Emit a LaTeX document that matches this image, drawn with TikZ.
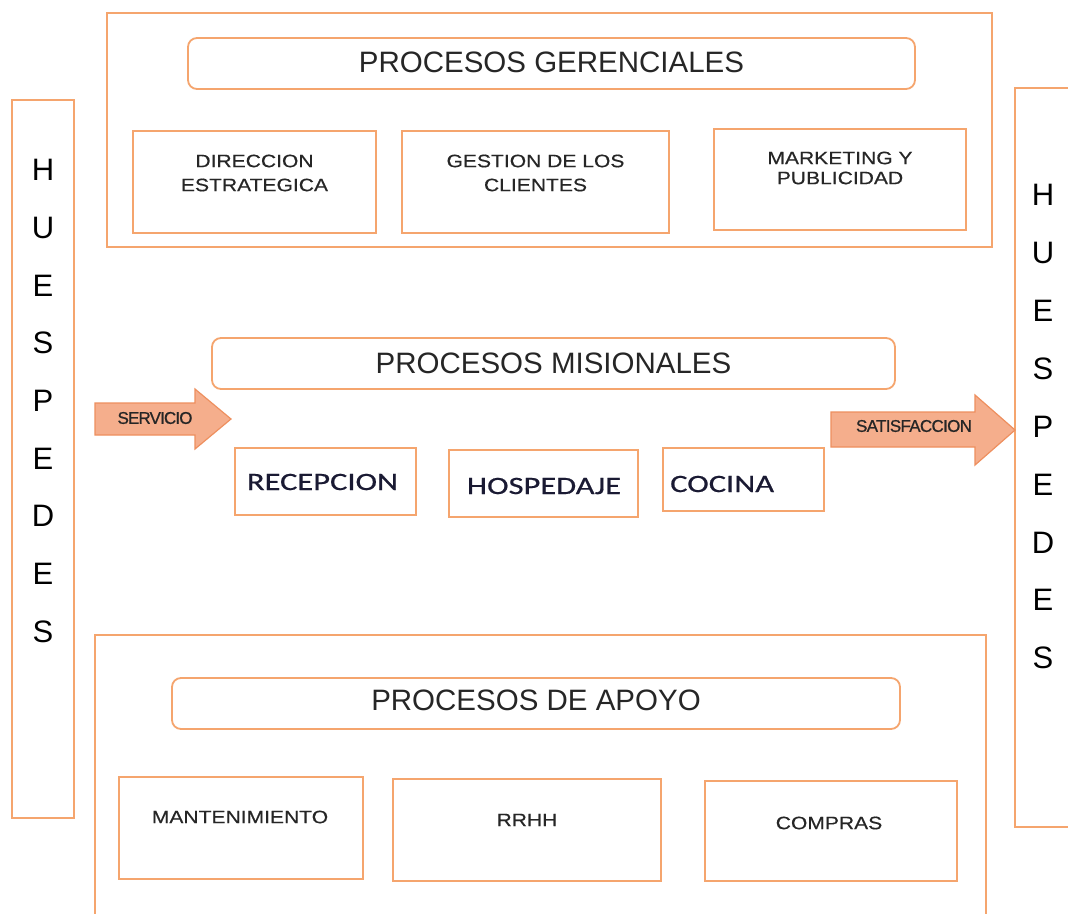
\documentclass[tikz,border=0pt]{standalone}
\usepackage{fontspec}
\setmainfont{Liberation Sans}
\newfontfamily\calib[FakeStretch=1.3,FakeBold=0.6]{Carlito}
\newfontfamily\smf[FakeStretch=1.17,FakeBold=0.4]{Liberation Sans}
\newfontfamily\arf[FakeBold=0.8]{Liberation Sans}
\definecolor{orng}{HTML}{F5A56E}
\definecolor{arrfill}{HTML}{F5AE8C}
\definecolor{arrdraw}{HTML}{EE8F5E}
\definecolor{txt}{HTML}{262626}
\definecolor{navy}{HTML}{1A1A33}
\begin{document}
\begin{tikzpicture}[x=1pt,y=-1pt,
  box/.style={draw=orng,line width=1.8pt},
  rbox/.style={draw=orng,line width=1.8pt,rounded corners=9pt},
  ttl/.style={font=\fontsize{29.5}{32}\selectfont,text=txt,inner sep=0pt},
  sm/.style={font=\smf\fontsize{18}{24}\selectfont,text=txt,align=center,inner sep=0pt},
  mis/.style={font=\calib\fontsize{25}{28}\selectfont,text=navy,inner sep=0pt},
  let/.style={font=\fontsize{31}{34}\selectfont,text=black,inner sep=0pt},
  arr/.style={fill=arrfill,draw=arrdraw,line width=1.2pt},
  arrtxt/.style={font=\arf\fontsize{17}{19}\selectfont,text=txt,inner sep=0pt}]
\useasboundingbox (0,0) rectangle (1068,913);
\fill[white] (0,0) rectangle (1068,913);
% left huespedes
\draw[box] (12,100) rectangle (74,818);
\foreach \l [count=\i from 0] in {H,U,E,S,P,E,D,E,S}
  \node[let] (lh\i) at (43,170+\i*57.7) {\l};
% right huespedes
\draw[box] (1015,88) rectangle (1080,827);
\foreach \l [count=\i from 0] in {H,U,E,S,P,E,D,E,S}
  \node[let] (rh\i) at (1043,195+\i*57.9) {\l};
% gerenciales
\draw[box] (107,13) rectangle (992,247);
\draw[rbox] (188,38) rectangle (915,89);
\node[ttl] (ger) at (551.5,62) {PROCESOS GERENCIALES};
\draw[box] (133,131) rectangle (376,233);
\node[sm] (dir) at (254.5,173) {DIRECCION\\ESTRATEGICA};
\draw[box] (402,131) rectangle (669,233);
\node[sm] (ges) at (535.5,173) {GESTION DE LOS\\CLIENTES};
\draw[box] (714,129) rectangle (966,230);
\node[sm,font=\smf\fontsize{18}{20}\selectfont] (mkt) at (840,168) {MARKETING Y\\PUBLICIDAD};
% misionales
\draw[rbox] (212,338) rectangle (895,389);
\node[ttl] (mis) at (553.5,363) {PROCESOS MISIONALES};
\draw[box] (235,448) rectangle (416,515);
\node[mis] (rec) at (322.5,482) {RECEPCION};
\draw[box] (449,450) rectangle (638,517);
\node[mis] (hos) at (544,486) {HOSPEDAJE};
\draw[box] (663,448) rectangle (824,511);
\node[mis,anchor=west] (coc) at (670,484) {COCINA};
% arrows
\draw[arr] (95,403) -- (195,403) -- (195,389) -- (231,419) -- (195,449) -- (195,435) -- (95,435) -- cycle;
\node[arrtxt] (serv) at (155,418) {\addfontfeatures{LetterSpace=-5}SERVICIO};
\draw[arr] (831,412) -- (975,412) -- (975,395) -- (1015,430) -- (975,465) -- (975,447) -- (831,447) -- cycle;
\node[arrtxt] (sat) at (914,426) {\addfontfeatures{LetterSpace=-4}SATISFACCION};
% apoyo
\draw[box] (95,925) -- (95,635) -- (986,635) -- (986,925);
\draw[rbox] (172,678) rectangle (900,729);
\node[ttl] (apo) at (536,700) {PROCESOS DE APOYO};
\draw[box] (119,777) rectangle (363,879);
\node[sm] (man) at (240,817) {MANTENIMIENTO};
\draw[box] (393,779) rectangle (661,881);
\node[sm] (rrh) at (527,820) {RRHH};
\draw[box] (705,781) rectangle (957,881);
\node[sm] (com) at (829,823) {COMPRAS};
\end{tikzpicture}
\end{document}
